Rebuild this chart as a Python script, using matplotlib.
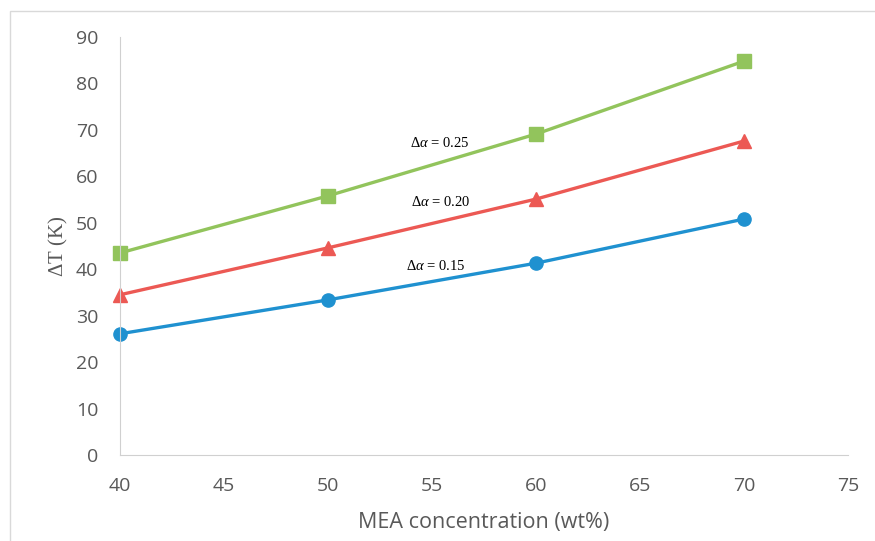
import matplotlib.pyplot as plt
from matplotlib.patches import Rectangle

plt.rcParams['mathtext.fontset'] = 'custom'
plt.rcParams['mathtext.rm'] = 'Liberation Serif'
plt.rcParams['mathtext.it'] = 'Liberation Serif:italic'

# data
mea_conc = [40, 50, 60, 70]
dT_025 = [43.5, 55.8, 69.1, 84.8]
dT_020 = [34.5, 44.6, 55.1, 67.6]
dT_015 = [26.1, 33.4, 41.3, 50.8]
labels = [r'$\Delta\alpha$ = 0.25', r'$\Delta\alpha$ = 0.20', r'$\Delta\alpha$ = 0.15']
label_pos = [(55.4, 67.2), (55.4, 54.5), (55.2, 40.7)]

xticks = [40, 45, 50, 55, 60, 65, 70, 75]
yticks = [0, 10, 20, 30, 40, 50, 60, 70, 80, 90]

fig = plt.figure(figsize=(8.75, 5.41), dpi=100)
ax = fig.add_axes([120/875, 1 - 455/541, 728/875, 418/541])

ax.plot(mea_conc, dT_025, color='#92c45c', lw=2.4, marker='s', ms=9.5, clip_on=False)
ax.plot(mea_conc, dT_020, color='#ec5954', lw=2.4, marker='^', ms=9.5, clip_on=False)
ax.plot(mea_conc, dT_015, color='#1f91d0', lw=2.4, marker='o', ms=9.5, clip_on=False)

for txt, (x, y) in zip(labels, label_pos):
    ax.text(x, y, txt, ha='center', va='center', fontsize=10.5,
            family='Liberation Serif', color='black')

ax.set_xlim(40, 75)
ax.set_ylim(0, 90)
ax.set_xticks(xticks)
ax.set_yticks(yticks)
ax.tick_params(length=0, labelsize=14, labelcolor='#595959')
ax.tick_params(axis='x', pad=16)
ax.tick_params(axis='y', pad=15.5)
for lab in ax.get_xticklabels() + ax.get_yticklabels():
    lab.set_family('Open Sans')

for side in ['top', 'right']:
    ax.spines[side].set_visible(False)
for side in ['left', 'bottom']:
    ax.spines[side].set_color('#d0d0d0')

ax.set_xlabel('MEA concentration (wt%)', family='Open Sans', fontsize=15.5,
              color='#595959', labelpad=12)
ax.set_ylabel(r'$\Delta$T (K)', family='Liberation Serif', fontsize=15,
              color='#595959', labelpad=4)

# thin outer frame around the chart area
fig.patches.append(Rectangle((10/875, -0.1), 1.0, 1.1 - 11/541, transform=fig.transFigure,
                             fill=False, edgecolor='#d9d9d9', lw=1))

fig.savefig('out.png', dpi=100)
